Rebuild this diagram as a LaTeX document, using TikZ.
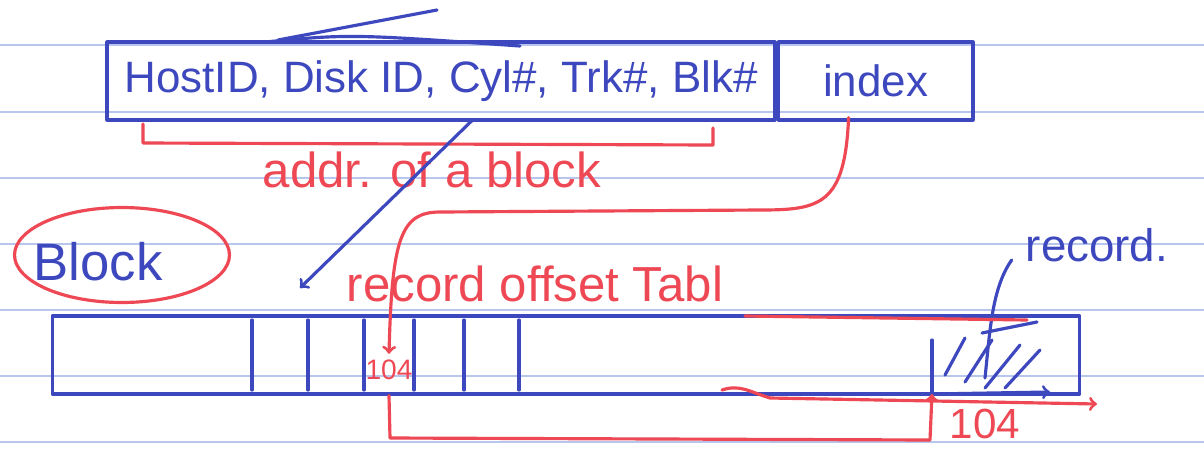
\documentclass[tikz,border=0pt]{standalone}
\usepackage{fontspec}
\setmainfont{Liberation Sans}
\usetikzlibrary{arrows, positioning, calc, shapes.geometric}
\definecolor{penblue}{RGB}{62,72,190}
\definecolor{penred}{RGB}{238,72,84}
\definecolor{ruleblue}{RGB}{184,198,238}

\begin{document}
\begin{tikzpicture}[
    x=0.02cm, y=-0.02cm,
    pen/.style={draw=penblue, line width=1.8pt, line cap=round, line join=round},
    redpen/.style={draw=penred, line width=1.8pt, line cap=round, line join=round},
    field/.style={rectangle, pen, minimum height=1.56cm, inner sep=0pt, text=penblue, font=\fontsize{25}{30}\selectfont},
    note/.style={text=penred, font=\fontsize{28}{34}\selectfont},
    label/.style={text=penblue, font=\fontsize{28}{34}\selectfont},
    arrow/.style={->, >=to},
    rule/.style={draw=ruleblue, line width=1.3pt}
]
    % ruled paper
    \fill[white] (0,0) rectangle (1204,454);
    \useasboundingbox (0,0) rectangle (1204,454);
    \foreach \y in {45,112,178,244,310,376,442}
        \draw[rule] (0,\y) -- (1204,\y);

    % address of a record
    \node[field, minimum width=13.36cm] (addr) at (441,81) {HostID, Disk ID, Cyl\#, Trk\#, Blk\#};
    \node[field, minimum width=3.9cm, right=0pt of addr] (idx) {index};
    \draw[pen] (278,40) -- (437,10);
    \draw[pen] (265,42) .. controls (350,34) .. (520,46);

    % bracket under the block address
    \draw[redpen] (143,124) -- (143,143) -- (713,145) -- (713,128);
    \node[note] (addrnote) at (432,170) {addr. of a block};

    % the block itself
    \node[label, font=\fontsize{30}{36}\selectfont] (blocklbl) at (98,262) {Block};
    \node[ellipse, redpen, minimum width=4.3cm, minimum height=1.9cm] (blockring) at (122,255) {};
    \node[rectangle, pen, minimum width=20.56cm, minimum height=1.56cm] (blk) at (566,355) {};
    \foreach \x in {252,308,364,414,464,519}
        \draw[pen] (\x,320) -- (\x,390);
    \node[text=penred, font=\fontsize{16}{19}\selectfont] (slot) at (389,370) {104};
    \node[note] (offtab) at (535,284) {record offset Tabl};

    % block address points at the block
    \coordinate (blkhead) at (300,288);
    \draw[pen, arrow] ($(addr.south)+(32,-2)$) -- (blkhead);

    % index picks a slot of the offset table
    \draw[redpen, arrow] ($(idx.south)+(-27,-4)$) .. controls (845,205) and (820,210) .. (760,210)
        -- (440,212) .. controls (400,212) and (392,240) .. (slot.north);

    % the record at the far end
    \coordinate (recstart) at (932,394);
    \draw[pen] (932,340) -- (recstart);
    \draw[pen] (945,375) -- (965,338);
    \draw[pen] (965,382) -- (992,340);
    \draw[pen] (985,388) -- (1020,345);
    \draw[pen] (1005,388) -- (1040,350);
    \draw[pen, arrow] (recstart) -- (1050,392);
    \node[label, font=\fontsize{26}{30}\selectfont] (reclbl) at (1097,245) {record.};
    \draw[pen] ($(reclbl.south west)+(-8,-8)$) .. controls (992,288) and (990,330) .. (985,378);
    \draw[pen] (982,333) -- (1037,322);
    \draw[redpen] (745,316) -- (1027,320);
    \draw[redpen, arrow] (722,390) .. controls (740,384) and (750,392) .. (770,398) -- (1097,404);

    % offset 104 from the slot to the record
    \draw[redpen, arrow] (slot.south |- blk.south) -- (390,438) -- (930,440) -- (recstart);
    \node[text=penred, font=\fontsize{24}{28}\selectfont] (offval) at (985,424) {104};
\end{tikzpicture}
\end{document}
